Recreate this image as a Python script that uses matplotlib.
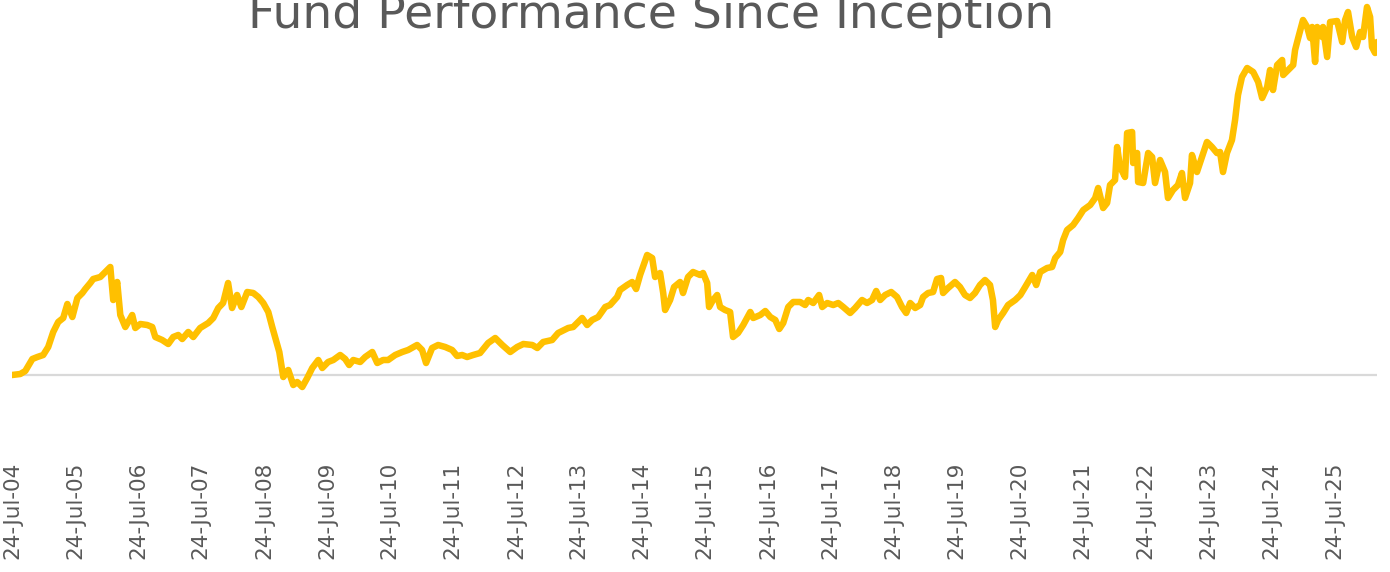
import pandas as pd
import matplotlib.pyplot as plt
import matplotlib.dates as mdates

# NAV readings since inception (24-Jul-2004)
dates = [
    "2004-07-24", "2004-09-10", "2004-10-09", "2004-11-19", "2004-12-18",
    "2005-01-21", "2005-02-19", "2005-03-20", "2005-04-18", "2005-05-17",
    "2005-06-10", "2005-07-09", "2005-08-07", "2005-09-05", "2005-09-22",
    "2005-10-21", "2005-11-07", "2005-12-18", "2006-01-16", "2006-02-14",
    "2006-03-03", "2006-03-26", "2006-04-13", "2006-05-12", "2006-05-29",
    "2006-06-21", "2006-07-09", "2006-08-07", "2006-09-16", "2006-10-15",
    "2006-11-02", "2006-12-12", "2007-01-16", "2007-02-14", "2007-03-15",
    "2007-04-07", "2007-05-12", "2007-06-10", "2007-07-20", "2007-09-05",
    "2007-10-04", "2007-11-02", "2007-11-30", "2007-12-29", "2008-01-21",
    "2008-02-19", "2008-03-15", "2008-04-18", "2008-05-23", "2008-06-21",
    "2008-07-20", "2008-08-18", "2008-09-10", "2008-09-28", "2008-10-21",
    "2008-11-13", "2008-12-12", "2009-01-10", "2009-02-02", "2009-03-03",
    "2009-04-01", "2009-04-30", "2009-06-04", "2009-06-27", "2009-07-31",
    "2009-08-30", "2009-10-09", "2009-11-07", "2009-11-30", "2009-12-24",
    "2010-02-02", "2010-03-03", "2010-04-13", "2010-05-12", "2010-06-15",
    "2010-07-14", "2010-08-24", "2010-10-04", "2010-11-07", "2010-12-29",
    "2011-01-27", "2011-02-19", "2011-03-26", "2011-04-30", "2011-06-10",
    "2011-07-20", "2011-08-18", "2011-09-16", "2011-10-15", "2011-11-19",
    "2011-12-29", "2012-02-14", "2012-03-26", "2012-05-06", "2012-06-21",
    "2012-07-31", "2012-09-05", "2012-10-27", "2012-11-25", "2012-12-29",
    "2013-02-19", "2013-03-26", "2013-05-23", "2013-06-21", "2013-08-12",
    "2013-09-10", "2013-10-09", "2013-11-13", "2013-12-24", "2014-01-21",
    "2014-03-03", "2014-03-20", "2014-04-30", "2014-05-29", "2014-06-21",
    "2014-07-14", "2014-08-24", "2014-09-22", "2014-10-09", "2014-11-07",
    "2014-11-25", "2014-12-06", "2015-01-04", "2015-01-27", "2015-03-03",
    "2015-03-20", "2015-04-18", "2015-05-17", "2015-06-27", "2015-07-14",
    "2015-08-07", "2015-08-18", "2015-09-10", "2015-10-04", "2015-10-21",
    "2015-11-19", "2015-12-18", "2016-01-04", "2016-02-02", "2016-03-03",
    "2016-04-13", "2016-04-30", "2016-06-10", "2016-07-09", "2016-08-07",
    "2016-09-05", "2016-09-28", "2016-10-21", "2016-11-19", "2016-12-18",
    "2017-01-27", "2017-02-25", "2017-03-15", "2017-04-13", "2017-05-17",
    "2017-06-04", "2017-07-03", "2017-08-07", "2017-09-05", "2017-10-04",
    "2017-11-13", "2017-12-12", "2018-01-21", "2018-02-19", "2018-03-20",
    "2018-04-13", "2018-05-06", "2018-06-04", "2018-07-09", "2018-08-12",
    "2018-09-10", "2018-10-04", "2018-10-27", "2018-11-25", "2018-12-24",
    "2019-01-10", "2019-02-08", "2019-03-09", "2019-04-01", "2019-04-24",
    "2019-05-06", "2019-06-04", "2019-07-14", "2019-08-12", "2019-09-10",
    "2019-10-09", "2019-11-07", "2019-12-06", "2020-01-04", "2020-02-02",
    "2020-02-19", "2020-03-03", "2020-03-20", "2020-04-18", "2020-05-17",
    "2020-06-27", "2020-07-27", "2020-08-24", "2020-10-04", "2020-10-27",
    "2020-11-19", "2020-12-29", "2021-01-27", "2021-02-14", "2021-03-15",
    "2021-04-01", "2021-04-24", "2021-05-29", "2021-06-27", "2021-07-27",
    "2021-09-05", "2021-10-04", "2021-10-21", "2021-11-19", "2021-12-12",
    "2021-12-29", "2022-01-27", "2022-02-08", "2022-02-25", "2022-03-26",
    "2022-04-07", "2022-05-06", "2022-05-12", "2022-06-04", "2022-06-10",
    "2022-07-09", "2022-08-07", "2022-08-30", "2022-09-16", "2022-10-15",
    "2022-11-13", "2022-11-30", "2022-12-29", "2023-01-27", "2023-02-19",
    "2023-03-09", "2023-04-07", "2023-04-18", "2023-05-17", "2023-06-15",
    "2023-07-14", "2023-08-12", "2023-09-10", "2023-09-28", "2023-10-15",
    "2023-11-07", "2023-12-06", "2023-12-24", "2024-01-10", "2024-02-02",
    "2024-03-03", "2024-04-07", "2024-05-06", "2024-05-29", "2024-06-27",
    "2024-07-14", "2024-07-31", "2024-08-24", "2024-09-22", "2024-09-28",
    "2024-10-27", "2024-11-25", "2024-12-06", "2024-12-24", "2025-01-21",
    "2025-02-14", "2025-03-03", "2025-03-15", "2025-04-01", "2025-04-13",
    "2025-05-12", "2025-05-17", "2025-06-10", "2025-06-27", "2025-08-07",
    "2025-09-05", "2025-09-22", "2025-10-09", "2025-11-02", "2025-11-25",
    "2025-12-18", "2026-01-04", "2026-01-27", "2026-02-14", "2026-02-25",
    "2026-03-15", "2026-03-26",
]

nav = [
    10.0, 10.1, 10.4, 11.6, 11.8,
    12.0, 12.8, 14.3, 15.3, 15.7,
    17.1, 15.8, 17.7, 18.2, 18.6,
    19.2, 19.6, 19.8, 20.3, 20.8,
    17.5, 19.3, 16.0, 14.8, 15.3,
    16.0, 14.7, 15.1, 15.0, 14.8,
    13.8, 13.5, 13.1, 13.8, 14.0,
    13.6, 14.3, 13.8, 14.7, 15.2,
    15.7, 16.7, 17.2, 19.2, 16.7,
    18.0, 16.8, 18.3, 18.2, 17.8,
    17.2, 16.3, 14.8, 13.7, 12.3,
    9.8, 10.5, 9.0, 9.3, 8.8,
    9.7, 10.7, 11.5, 10.7, 11.3,
    11.5, 12.0, 11.6, 11.0, 11.5,
    11.3, 11.8, 12.3, 11.2, 11.5,
    11.5, 12.0, 12.3, 12.5, 13.0,
    12.5, 11.2, 12.7, 13.0, 12.8,
    12.5, 11.9, 12.0, 11.8, 12.0,
    12.2, 13.2, 13.7, 13.0, 12.3,
    12.8, 13.1, 13.0, 12.7, 13.3,
    13.5, 14.2, 14.7, 14.8, 15.7,
    15.0, 15.5, 15.8, 16.8, 17.0,
    17.8, 18.5, 19.0, 19.3, 18.6,
    20.0, 22.0, 21.7, 19.8, 20.2,
    18.2, 16.5, 17.5, 18.8, 19.3,
    18.2, 19.8, 20.3, 20.0, 20.2,
    19.2, 16.8, 17.5, 18.0, 16.8,
    16.5, 16.3, 13.8, 14.2, 15.0,
    16.3, 15.7, 16.0, 16.4, 15.8,
    15.5, 14.6, 15.2, 16.8, 17.3,
    17.3, 17.0, 17.5, 17.2, 18.0,
    16.8, 17.2, 17.0, 17.2, 16.8,
    16.2, 16.7, 17.5, 17.2, 17.5,
    18.4, 17.5, 18.0, 18.3, 17.8,
    16.8, 16.2, 17.2, 16.7, 17.0,
    17.8, 18.2, 18.3, 19.6, 19.7,
    18.2, 18.7, 19.3, 18.8, 18.0,
    17.7, 18.2, 19.0, 19.5, 19.0,
    17.5, 14.8, 15.5, 16.2, 17.0,
    17.5, 18.0, 18.8, 20.0, 19.0,
    20.3, 20.7, 20.8, 21.7, 22.3,
    23.5, 24.5, 25.0, 25.7, 26.5,
    27.0, 27.7, 28.7, 26.7, 27.2,
    29.0, 29.5, 32.8, 30.8, 29.8,
    34.2, 34.3, 31.2, 32.2, 29.3,
    29.2, 32.2, 31.8, 29.2, 31.5,
    30.3, 27.7, 28.5, 29.0, 30.2,
    27.7, 29.2, 32.0, 30.3, 31.8,
    33.3, 32.8, 32.2, 32.3, 30.3,
    32.2, 33.5, 35.5, 38.0, 39.8,
    40.7, 40.3, 39.3, 37.7, 38.8,
    40.5, 38.5, 41.0, 41.5, 40.0,
    40.5, 41.0, 42.5, 43.7, 45.5,
    44.8, 43.7, 44.8, 41.3, 44.8,
    43.8, 44.8, 41.8, 45.3, 45.4,
    43.3, 45.5, 46.3, 43.8, 42.8,
    44.3, 43.8, 46.8, 45.8, 42.8,
    42.2, 43.3,
]

inception_nav = 10.0
tick_years = list(range(2004, 2026))

df = pd.DataFrame({"date": pd.to_datetime(dates), "nav": nav})

fig = plt.figure(figsize=(13.9, 5.72), dpi=100)
ax = fig.add_axes([12 / 1390, 117 / 572, 1365 / 1390, 455 / 572])

ax.axhline(inception_nav, color="#d9d9d9", lw=1.6, zorder=1)
ax.plot(df["date"], df["nav"], color="#FFC000", lw=4.7,
        solid_joinstyle="round", solid_capstyle="round", zorder=2)

ax.set_xlim(df["date"].min(), df["date"].max())
ax.set_ylim(2, 47.5)

ticks = [pd.Timestamp(f"{y}-07-24") for y in tick_years]
ax.set_xticks(ticks)
ax.xaxis.set_major_formatter(mdates.DateFormatter("%d-%b-%y"))
ax.tick_params(axis="x", length=0, pad=5, labelsize=15.5,
               labelcolor="#595959", labelrotation=90)
ax.set_yticks([])
for s in ax.spines.values():
    s.set_visible(False)

# title sits partly above the top edge, as in the source chart
fig.text(651 / 1390, (572 - 28) / 572, "Fund Performance Since Inception",
         ha="center", va="baseline", fontsize=34, color="#595959")

fig.savefig("out.png", dpi=100)
